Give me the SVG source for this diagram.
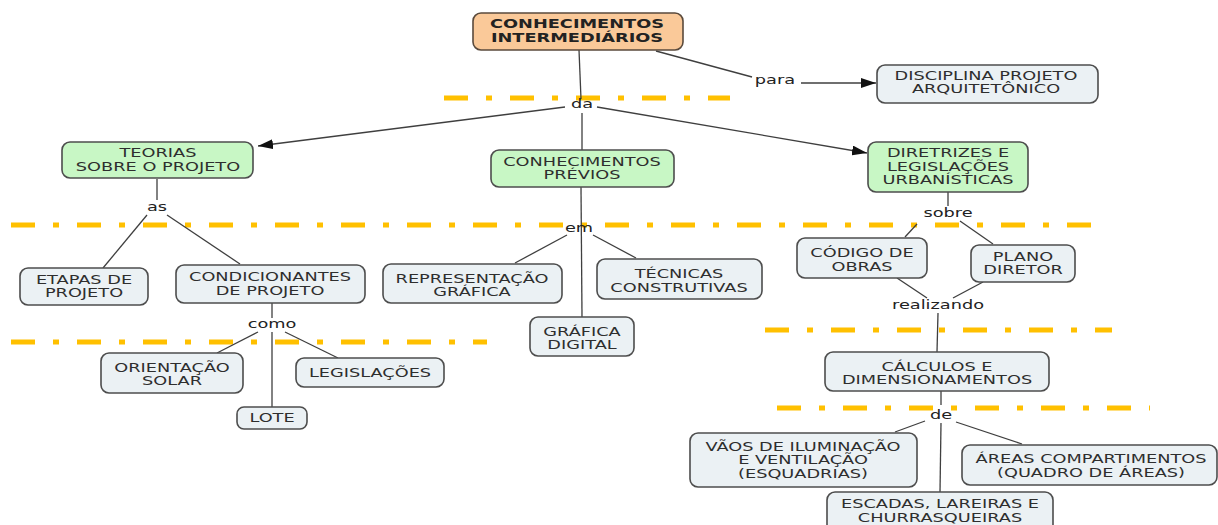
<svg xmlns="http://www.w3.org/2000/svg" width="1218" height="525" viewBox="0 0 1218 525">
  <style>
    .node rect { fill: #EBF1F4; stroke: #4d4d4d; stroke-width: 1.6; }
    .node.green rect { fill: #C8F7C5; }
    .node.root rect { fill: #FAC999; stroke: #5a4a3c; }
    text { font-family: "DejaVu Sans", Verdana, sans-serif; font-size: 12.4px; fill: #2e2e2e; text-anchor: middle; }
    .root text { font-weight: bold; fill: #222; }
    .lbl { fill: #222; }
    .conn line { stroke: #3f3f3f; stroke-width: 1.3; fill: none; }
    .guide line { stroke: #FFC000; stroke-width: 5; stroke-dasharray: 24 18 6 18; }
  </style>
  <defs>
    <marker id="arrow" viewBox="0 0 15 10" refX="15" refY="5" markerWidth="15" markerHeight="10" markerUnits="userSpaceOnUse" orient="auto">
      <path d="M0,0 L15,5 L0,10 Z" fill="#111"/>
    </marker>
  </defs>

  <rect width="1218" height="525" fill="#ffffff"/>

  <!-- orange dash-dot guide lines -->
  <g class="guide">
    <line x1="444" y1="98" x2="730" y2="98"/>
    <line x1="11" y1="225" x2="1091" y2="225"/>
    <line x1="11" y1="342" x2="487" y2="342"/>
    <line x1="765" y1="330" x2="1112" y2="330"/>
    <line x1="777" y1="408" x2="1150" y2="408"/>
  </g>

  <!-- connectors -->
  <g class="conn">
    <line x1="656" y1="51" x2="752" y2="77"/>
    <line x1="801" y1="83" x2="876" y2="83" marker-end="url(#arrow)"/>
    <line x1="579" y1="50" x2="581" y2="99"/>
    <line x1="565" y1="107" x2="258" y2="146" marker-end="url(#arrow)"/>
    <line x1="597" y1="107" x2="867" y2="153" marker-end="url(#arrow)"/>
    <line x1="582" y1="113" x2="582" y2="150"/>
    <line x1="157" y1="179" x2="157" y2="200"/>
    <line x1="147" y1="215" x2="103" y2="268"/>
    <line x1="167" y1="215" x2="240" y2="264"/>
    <line x1="272" y1="303" x2="272" y2="318"/>
    <line x1="258" y1="332" x2="217" y2="353"/>
    <line x1="285" y1="332" x2="338" y2="358"/>
    <line x1="272" y1="332" x2="272" y2="407"/>
    <line x1="581" y1="187" x2="582" y2="317"/>
    <line x1="567" y1="235" x2="515" y2="263"/>
    <line x1="593" y1="235" x2="636" y2="258"/>
    <line x1="948" y1="192" x2="948" y2="206"/>
    <line x1="917" y1="224" x2="905" y2="237"/>
    <line x1="960" y1="221" x2="993" y2="244"/>
    <line x1="897" y1="278" x2="927" y2="298"/>
    <line x1="983" y1="282" x2="953" y2="298"/>
    <line x1="938" y1="313" x2="937" y2="352"/>
    <line x1="941" y1="391" x2="941" y2="405"/>
    <line x1="925" y1="421" x2="895" y2="432"/>
    <line x1="956" y1="422" x2="1022" y2="444"/>
    <line x1="941" y1="423" x2="940" y2="492"/>
  </g>

  <!-- linking phrases -->
  <g id="labels">
    <text class="lbl" transform="translate(775 0) scale(1.43 1)" y="84">para</text>
    <text class="lbl" transform="translate(582 0) scale(1.43 1)" y="108">da</text>
    <text class="lbl" transform="translate(157 0) scale(1.43 1)" y="211">as</text>
    <text class="lbl" transform="translate(272 0) scale(1.43 1)" y="328">como</text>
    <text class="lbl" transform="translate(579 0) scale(1.43 1)" y="232">em</text>
    <text class="lbl" transform="translate(948 0) scale(1.43 1)" y="217">sobre</text>
    <text class="lbl" transform="translate(938 0) scale(1.43 1)" y="309">realizando</text>
    <text class="lbl" transform="translate(941 0) scale(1.43 1)" y="419">de</text>
  </g>

  <!-- concepts -->
  <g id="n-intermediarios" class="node root">
    <rect x="473" y="13" width="210" height="37" rx="8"/>
    <text transform="translate(577 0) scale(1.43 1)"><tspan x="0" y="28">CONHECIMENTOS</tspan><tspan x="0" y="42">INTERMEDIÁRIOS</tspan></text>
  </g>
  <g id="n-disciplina" class="node">
    <rect x="877" y="65" width="221" height="38" rx="8"/>
    <text transform="translate(986 0) scale(1.43 1)"><tspan x="0" y="80">DISCIPLINA PROJETO</tspan><tspan x="0" y="93">ARQUITETÔNICO</tspan></text>
  </g>
  <g id="n-teorias" class="node green">
    <rect x="62" y="142" width="191" height="36" rx="8"/>
    <text transform="translate(158 0) scale(1.43 1)"><tspan x="0" y="157">TEORIAS</tspan><tspan x="0" y="171">SOBRE O PROJETO</tspan></text>
  </g>
  <g id="n-previos" class="node green">
    <rect x="491" y="150" width="183" height="37" rx="8"/>
    <text transform="translate(582 0) scale(1.43 1)"><tspan x="0" y="166">CONHECIMENTOS</tspan><tspan x="0" y="179">PRÉVIOS</tspan></text>
  </g>
  <g id="n-diretrizes" class="node green">
    <rect x="868" y="142" width="160" height="50" rx="8"/>
    <text transform="translate(948 0) scale(1.43 1)"><tspan x="0" y="157">DIRETRIZES E</tspan><tspan x="0" y="171">LEGISLAÇÕES</tspan><tspan x="0" y="184">URBANÍSTICAS</tspan></text>
  </g>
  <g id="n-etapas" class="node">
    <rect x="20" y="268" width="128" height="37" rx="8"/>
    <text transform="translate(84 0) scale(1.43 1)"><tspan x="0" y="284">ETAPAS DE</tspan><tspan x="0" y="297">PROJETO</tspan></text>
  </g>
  <g id="n-condicionantes" class="node">
    <rect x="176" y="265" width="189" height="38" rx="8"/>
    <text transform="translate(270 0) scale(1.43 1)"><tspan x="0" y="281">CONDICIONANTES</tspan><tspan x="0" y="295">DE PROJETO</tspan></text>
  </g>
  <g id="n-representacao" class="node">
    <rect x="383" y="264" width="179" height="39" rx="8"/>
    <text transform="translate(472 0) scale(1.43 1)"><tspan x="0" y="283">REPRESENTAÇÃO</tspan><tspan x="0" y="296">GRÁFICA</tspan></text>
  </g>
  <g id="n-tecnicas" class="node">
    <rect x="597" y="259" width="165" height="40" rx="8"/>
    <text transform="translate(679 0) scale(1.43 1)"><tspan x="0" y="278">TÉCNICAS</tspan><tspan x="0" y="292">CONSTRUTIVAS</tspan></text>
  </g>
  <g id="n-grafica-digital" class="node">
    <rect x="530" y="317" width="104" height="39" rx="8"/>
    <text transform="translate(582 0) scale(1.43 1)"><tspan x="0" y="336">GRÁFICA</tspan><tspan x="0" y="349">DIGITAL</tspan></text>
  </g>
  <g id="n-codigo" class="node">
    <rect x="797" y="238" width="130" height="40" rx="8"/>
    <text transform="translate(862 0) scale(1.43 1)"><tspan x="0" y="257">CÓDIGO DE</tspan><tspan x="0" y="271">OBRAS</tspan></text>
  </g>
  <g id="n-plano" class="node">
    <rect x="971" y="245" width="104" height="37" rx="8"/>
    <text transform="translate(1023 0) scale(1.43 1)"><tspan x="0" y="261">PLANO</tspan><tspan x="0" y="274">DIRETOR</tspan></text>
  </g>
  <g id="n-orientacao" class="node">
    <rect x="101" y="353" width="142" height="40" rx="8"/>
    <text transform="translate(172 0) scale(1.43 1)"><tspan x="0" y="372">ORIENTAÇÃO</tspan><tspan x="0" y="385">SOLAR</tspan></text>
  </g>
  <g id="n-legislacoes" class="node">
    <rect x="296" y="358" width="148" height="29" rx="8"/>
    <text transform="translate(370 0) scale(1.43 1)" y="377">LEGISLAÇÕES</text>
  </g>
  <g id="n-lote" class="node">
    <rect x="237" y="407" width="70" height="22" rx="7"/>
    <text transform="translate(272 0) scale(1.43 1)" y="422">LOTE</text>
  </g>
  <g id="n-calculos" class="node">
    <rect x="825" y="352" width="224" height="39" rx="8"/>
    <text transform="translate(937 0) scale(1.43 1)"><tspan x="0" y="371">CÁLCULOS E</tspan><tspan x="0" y="384">DIMENSIONAMENTOS</tspan></text>
  </g>
  <g id="n-vaos" class="node">
    <rect x="690" y="433" width="227" height="54" rx="8"/>
    <text transform="translate(803 0) scale(1.43 1)"><tspan x="0" y="451">VÃOS DE ILUMINAÇÃO</tspan><tspan x="0" y="464">E VENTILAÇÃO</tspan><tspan x="0" y="478">(ESQUADRIAS)</tspan></text>
  </g>
  <g id="n-areas" class="node">
    <rect x="962" y="445" width="255" height="40" rx="8"/>
    <text transform="translate(1091 0) scale(1.43 1)"><tspan x="0" y="463">ÁREAS COMPARTIMENTOS</tspan><tspan x="0" y="477">(QUADRO DE ÁREAS)</tspan></text>
  </g>
  <g id="n-escadas" class="node">
    <rect x="827" y="492" width="226" height="45" rx="8"/>
    <text transform="translate(940 0) scale(1.43 1)"><tspan x="0" y="508">ESCADAS, LAREIRAS E</tspan><tspan x="0" y="522">CHURRASQUEIRAS</tspan></text>
  </g>
</svg>
